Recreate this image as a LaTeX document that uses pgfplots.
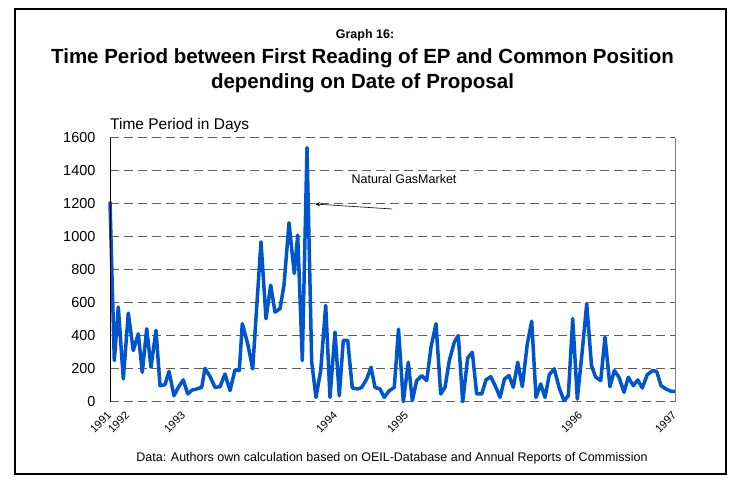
\documentclass[border=0pt]{standalone}
\usepackage{fontspec}
\setmainfont{Liberation Sans}
\usepackage{pgfplots}
\pgfplotsset{compat=1.18}
\usetikzlibrary{arrows.meta}
\definecolor{lineblue}{RGB}{0,85,204}
\definecolor{gridgray}{RGB}{95,95,95}
\begin{document}
\begin{tikzpicture}[x=1pt,y=1pt]
\useasboundingbox (0,0) rectangle (730,481);
\draw[black, line width=2pt] (15,7) rectangle (726,472);
\node[font=\bfseries\fontsize{12.5}{14}\selectfont] at (365,446) {Graph 16:};
\node[font=\bfseries\fontsize{20.5}{24.5}\selectfont, align=center] at (362.5,410) {Time Period between First Reading of EP and Common Position\\depending on Date of Proposal};
\node[font=\fontsize{15.5}{18}\selectfont, anchor=base west, inner sep=0pt] at (110,351) {Time Period in Days};
\node[font=\fontsize{12.5}{14}\selectfont] at (392,23) {Data: Authors own calculation based on OEIL-Database and Annual Reports of Commission};
\begin{axis}[
  at={(110pt,79.3pt)}, anchor=south west,
  scale only axis, width=565pt, height=264pt,
  xmin=0, xmax=565, ymin=0, ymax=1600,
  axis line style={draw=none},
  clip=false,
  ytick={0,200,...,1600},
  xtick={0,18,74,226,297,471,565},
  xticklabels={1991,1992,1993,1994,1995,1996,1997},
  major tick length=0pt,
  ymajorgrids,
  major grid style={gridgray, line width=1pt, dash pattern=on 9pt off 5pt},
  /pgf/number format/assume math mode=true,
  /pgf/number format/1000 sep={},
  yticklabel style={font=\fontsize{14.5}{16}\selectfont, xshift=-11pt},
  xticklabel style={font=\fontsize{11}{12}\selectfont, yshift=-11pt, xshift=0pt, rotate=45, anchor=east, inner sep=1pt},
]
\addplot[lineblue, line width=3.5pt, line join=round] coordinates {
(0,1212) (4.3,249) (8.3,574) (13.3,138) (18.3,537) (23.3,310) (28.3,412) (32.3,178) (36.7,442) (41,209) (46,432) (50,97) (55,103) (59,184) (64,36) (68.3,87) (73.3,132) (77.7,47) (82.3,71) (86.7,77) (91.7,87) (95,202) (100,153) (105,87) (110,91) (115,168) (120,67) (125,193) (129.3,189) (132.3,473) (137.7,351) (142.7,199) (146.7,574) (151,969) (156,503) (160.7,706) (165,543) (170,564) (174,706) (179,1085) (184.3,777) (187.7,1010) (192.3,249) (197,1540) (201.7,240) (206,26) (210.7,189) (215.7,584) (220,26) (225,422) (229.3,36) (233.3,371) (237.7,371) (242.3,83) (247.7,77) (251.7,87) (256.7,138) (261,209) (265,87) (270,77) (274.3,26) (279.3,67) (284.3,87) (288.5,440) (293.3,0) (298.3,239) (302.3,6) (306.7,128) (311.7,158) (316.7,128) (321,330) (326,473) (330.7,47) (335,87) (339.3,249) (344.3,361) (348.3,401) (352.7,0) (357.7,266) (362.3,300) (366.7,47) (371.7,47) (376,132) (380.7,152) (385.7,90) (390,26) (394.5,138) (399,158) (403.3,87) (407.7,239) (412.3,91) (417.3,351) (421.7,488) (426,26) (430.7,108) (435,26) (439.3,164) (444.3,199) (449,87) (454,6) (458.3,36) (462.7,503) (467.3,16) (472.3,310) (476.7,594) (481.5,219) (485.5,150) (490.7,128) (495,391) (500,91) (504.3,189) (509,148) (514,57) (518.3,148) (523.3,97) (527.7,132) (532.3,83) (537.3,164) (542.7,189) (546.7,183) (551,97) (556,77) (561,63) (565,63)
};
\draw[black, line width=1pt] (axis cs:0,0) -- (axis cs:0,1600);
\draw[gray, line width=0.8pt] (axis cs:565,0) -- (axis cs:565,1600);
\node[font=\fontsize{12.5}{14}\selectfont] at (axis cs:294,1348) {Natural GasMarket};
\draw[-{Stealth[length=5pt,width=4pt]}, black, line width=0.6pt] (axis cs:282,1168) -- (axis cs:205,1198);
\end{axis}
\end{tikzpicture}
\end{document}
